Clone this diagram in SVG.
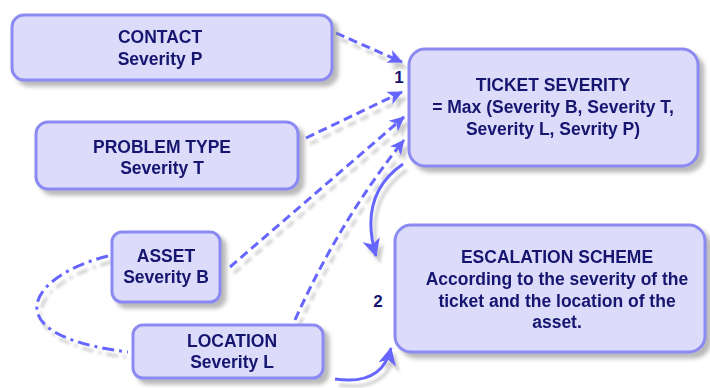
<svg xmlns="http://www.w3.org/2000/svg" width="710" height="388" viewBox="0 0 710 388">
<defs>
<filter id="sh" x="-20%" y="-20%" width="150%" height="160%">
<feDropShadow dx="5" dy="5" stdDeviation="2" flood-color="#808080" flood-opacity="0.55"/>
</filter>
<filter id="lsh" x="-20%" y="-20%" width="150%" height="160%">
<feDropShadow dx="4" dy="6" stdDeviation="1.5" flood-color="#909090" flood-opacity="0.45"/>
</filter>
<marker id="ah" markerUnits="userSpaceOnUse" markerWidth="18" markerHeight="16" refX="14" refY="7" orient="auto">
<path d="M0,0 L15,7 L0,14 L4,7 Z" fill="#6666ff"/>
</marker>
<marker id="ahb" markerUnits="userSpaceOnUse" markerWidth="22" markerHeight="20" refX="17" refY="9" orient="auto">
<path d="M0,0 L18,9 L0,18 L5,9 Z" fill="#6666ff"/>
</marker>
</defs>
<style>
.box{fill:#dcdcfa;stroke:#8a8af2;stroke-width:3}
.t{font-family:"Liberation Sans",Arial,sans-serif;font-weight:bold;font-size:17.5px;fill:#141470;text-anchor:middle}
.n{font-family:"Liberation Sans",Arial,sans-serif;font-weight:bold;font-size:17px;fill:#141470;text-anchor:middle}
.d{fill:none;stroke:#6666ff;stroke-width:3;stroke-dasharray:9 5}
.dd{fill:none;stroke:#6666ff;stroke-width:3;stroke-dasharray:12 5 3 5}
.s{fill:none;stroke:#6666ff;stroke-width:3}
</style>
<rect width="710" height="388" fill="#ffffff"/>
<g id="connectors" filter="url(#lsh)">
<path class="d" d="M336 33 L402 62" marker-end="url(#ah)"/>
<path class="d" d="M306 138 L402 92" marker-end="url(#ah)"/>
<path class="d" d="M230 267 L404 117" marker-end="url(#ah)"/>
<path class="d" d="M295 320 Q340 220 404 140" marker-end="url(#ah)"/>
<path class="dd" d="M108 256 C30 275 -10 335 128 352"/>
<path class="s" d="M403 164 Q358 195 376 256" marker-end="url(#ahb)"/>
<path class="s" d="M335 379 Q382 386 391 348" marker-end="url(#ahb)"/>
</g>
<g id="contact" filter="url(#sh)">
<rect class="box" x="12" y="15" width="320" height="65" rx="12"/>
<text class="t" x="160" y="43">CONTACT</text>
<text class="t" x="160" y="65">Severity P</text>
</g>
<g id="problem-type" filter="url(#sh)">
<rect class="box" x="36" y="122" width="262" height="67" rx="12"/>
<text class="t" x="162" y="153">PROBLEM TYPE</text>
<text class="t" x="162" y="174">Severity T</text>
</g>
<g id="asset" filter="url(#sh)">
<rect class="box" x="112" y="232" width="108" height="70" rx="10"/>
<text class="t" x="166" y="262">ASSET</text>
<text class="t" x="166" y="283">Severity B</text>
</g>
<g id="location" filter="url(#sh)">
<rect class="box" x="133" y="325" width="190" height="53" rx="10"/>
<text class="t" x="232" y="347">LOCATION</text>
<text class="t" x="232" y="368">Severity L</text>
</g>
<g id="ticket-severity" filter="url(#sh)">
<rect class="box" x="409" y="49" width="289" height="117" rx="16"/>
<text class="t" x="553" y="91">TICKET SEVERITY</text>
<text class="t" x="553" y="113">= Max (Severity B, Severity T,</text>
<text class="t" x="553" y="135">Severity L, Sevrity P)</text>
</g>
<g id="escalation-scheme" filter="url(#sh)">
<rect class="box" x="395" y="225" width="310" height="127" rx="16"/>
<text class="t" x="557" y="263">ESCALATION SCHEME</text>
<text class="t" x="557" y="285">According to the severity of the</text>
<text class="t" x="557" y="307">ticket and the location of the</text>
<text class="t" x="557" y="328">asset.</text>
</g>
<g id="labels">
<text class="n" x="399" y="83">1</text>
<text class="n" x="378" y="307">2</text>
</g>
</svg>
